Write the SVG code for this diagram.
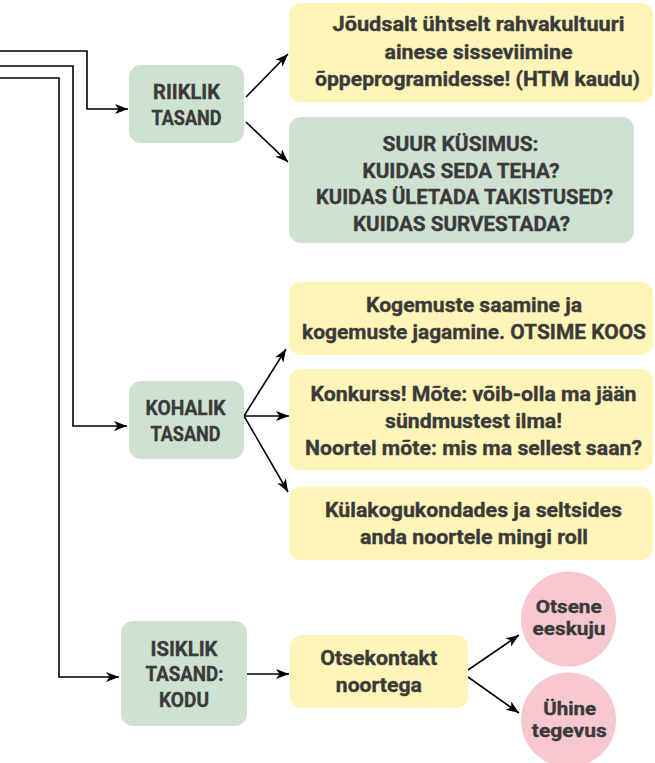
<svg xmlns="http://www.w3.org/2000/svg" width="655" height="763" viewBox="0 0 655 763">
<defs>
<marker id="ah" markerWidth="14" markerHeight="10" refX="13" refY="5" orient="auto" markerUnits="userSpaceOnUse"><path d="M0,0 L13,5 L0,10 L3.5,5 Z" fill="#000"/></marker>
<style>
.g{fill:#CFE1D1}
.y{fill:#FFF5B8}
.p{fill:#F8C8D0}
text{font-family:"Roboto","Liberation Sans",sans-serif;font-weight:bold;font-size:20px;fill:#3A3A3A;stroke:#3A3A3A;stroke-width:0.35;text-anchor:middle}
text.s{font-size:19px}
.c path{fill:none;stroke:#000;stroke-width:1.6;marker-end:url(#ah)}
</style>
</defs>
<rect width="655" height="763" fill="#fff"/>
<g class="c" id="connectors">
<path d="M0,51 H87 V109 H128"/>
<path d="M0,66 H73 V426 H127"/>
<path d="M0,78 H59 V677 H119"/>
<path d="M246,97 L288,54"/>
<path d="M246,122 L288,162"/>
<path d="M244,416 L286,349"/>
<path d="M244,416 L289,416"/>
<path d="M244,416 L288,492"/>
<path d="M247,674 L289,674"/>
<path d="M468,670 L519,635"/>
<path d="M468,677 L519,713"/>
</g>
<g id="riiklik">
<rect class="g" x="129" y="65" width="115" height="78" rx="12"/>
<text x="186.5" y="98.5" textLength="67" lengthAdjust="spacingAndGlyphs">RIIKLIK</text>
<text x="186.5" y="124.5" textLength="70" lengthAdjust="spacingAndGlyphs">TASAND</text>
</g>
<g id="box1">
<rect class="y" x="289" y="3" width="364" height="99" rx="12"/>
<text x="478.5" y="31" textLength="292" lengthAdjust="spacingAndGlyphs">Jõudsalt ühtselt rahvakultuuri</text>
<text x="478.5" y="58.5" textLength="188" lengthAdjust="spacingAndGlyphs">ainese sisseviimine</text>
<text x="477.5" y="86" textLength="325" lengthAdjust="spacingAndGlyphs">õppeprogramidesse! (HTM kaudu)</text>
</g>
<g id="box2">
<rect class="g" x="289" y="117" width="345" height="126" rx="12"/>
<text x="460.5" y="151" textLength="156" lengthAdjust="spacingAndGlyphs">SUUR KÜSIMUS:</text>
<text x="461" y="177.5" textLength="197" lengthAdjust="spacingAndGlyphs">KUIDAS SEDA TEHA?</text>
<text x="464.5" y="204" textLength="297" lengthAdjust="spacingAndGlyphs">KUIDAS ÜLETADA TAKISTUSED?</text>
<text x="461.5" y="230.5" textLength="217" lengthAdjust="spacingAndGlyphs">KUIDAS SURVESTADA?</text>
</g>
<g id="kohalik">
<rect class="g" x="129" y="381" width="115" height="78" rx="12"/>
<text x="185.5" y="415" textLength="80" lengthAdjust="spacingAndGlyphs">KOHALIK</text>
<text x="185.5" y="440.5" textLength="70" lengthAdjust="spacingAndGlyphs">TASAND</text>
</g>
<g id="box3">
<rect class="y" x="289" y="282" width="364" height="73" rx="12"/>
<text x="474" y="311.5" textLength="216" lengthAdjust="spacingAndGlyphs">Kogemuste saamine ja</text>
<text x="474" y="338.5" textLength="344" lengthAdjust="spacingAndGlyphs">kogemuste jagamine. OTSIME KOOS</text>
</g>
<g id="box4">
<rect class="y" x="289" y="369" width="364" height="101" rx="12"/>
<text x="473.5" y="400.5" textLength="326" lengthAdjust="spacingAndGlyphs">Konkurss! Mõte: võib-olla ma jään</text>
<text x="473.5" y="428" textLength="177" lengthAdjust="spacingAndGlyphs">sündmustest ilma!</text>
<text x="473.5" y="455" textLength="337" lengthAdjust="spacingAndGlyphs">Noortel mõte: mis ma sellest saan?</text>
</g>
<g id="box5">
<rect class="y" x="289" y="487" width="364" height="73" rx="12"/>
<text x="473.5" y="516.5" textLength="297" lengthAdjust="spacingAndGlyphs">Külakogukondades ja seltsides</text>
<text x="474" y="543.5" textLength="228" lengthAdjust="spacingAndGlyphs">anda noortele mingi roll</text>
</g>
<g id="isiklik">
<rect class="g" x="121" y="621" width="126" height="105" rx="12"/>
<text x="184" y="656" textLength="67" lengthAdjust="spacingAndGlyphs">ISIKLIK</text>
<text x="184.5" y="681" textLength="78" lengthAdjust="spacingAndGlyphs">TASAND:</text>
<text x="184" y="706.5" textLength="50" lengthAdjust="spacingAndGlyphs">KODU</text>
</g>
<g id="otsekontakt">
<rect class="y" x="290" y="635" width="178" height="73" rx="12"/>
<text x="378.7" y="665" textLength="117" lengthAdjust="spacingAndGlyphs">Otsekontakt</text>
<text x="378.8" y="691.5" textLength="86" lengthAdjust="spacingAndGlyphs">noortega</text>
</g>
<g id="otsene">
<circle class="p" cx="568.5" cy="619" r="47.5"/>
<text class="s" x="568.7" y="612.5" textLength="66" lengthAdjust="spacingAndGlyphs">Otsene</text>
<text class="s" x="569" y="635" textLength="73" lengthAdjust="spacingAndGlyphs">eeskuju</text>
</g>
<g id="uhine">
<circle class="p" cx="568.5" cy="720" r="47.5"/>
<text class="s" x="569.7" y="714.5" textLength="53" lengthAdjust="spacingAndGlyphs">Ühine</text>
<text class="s" x="569.3" y="736.5" textLength="75" lengthAdjust="spacingAndGlyphs">tegevus</text>
</g>
</svg>
